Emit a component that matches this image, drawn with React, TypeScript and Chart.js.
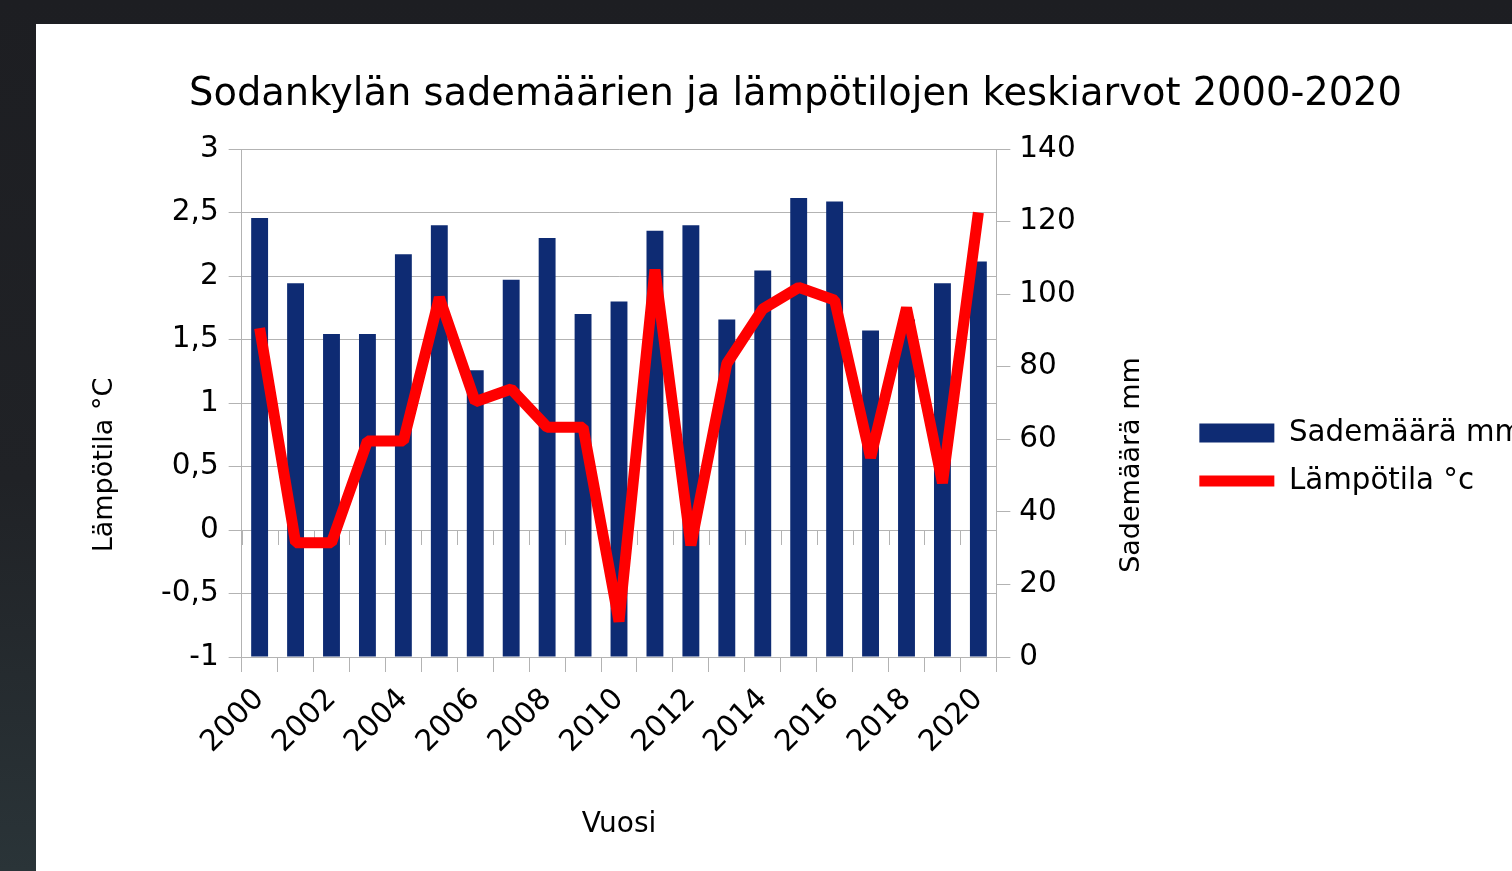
import React, { useEffect, useRef } from 'react';
import { Chart, registerables } from 'chart.js';

Chart.register(...registerables);

const years = ['2000', '2001', '2002', '2003', '2004', '2005', '2006', '2007', '2008', '2009', '2010', '2011', '2012', '2013', '2014', '2015', '2016', '2017', '2018', '2019', '2020'];
const precipitationMm = [121, 103, 89, 89, 111, 119, 79, 104, 115.5, 94.5, 98, 117.5, 119, 93, 106.5, 126.5, 125.5, 90, 93, 103, 109];
const temperatureC = [1.59, -0.1, -0.1, 0.7, 0.7, 1.83, 1.01, 1.11, 0.81, 0.81, -0.72, 2.05, -0.12, 1.31, 1.74, 1.91, 1.81, 0.57, 1.75, 0.37, 2.5];

const chartTitle = 'Sodankylän sademäärien ja lämpötilojen keskiarvot 2000-2020';
const barLabel = 'Sademäärä mm';
const lineLabel = 'Lämpötila °c';
const leftAxisTitle = 'Lämpötila °C';
const rightAxisTitle = 'Sademäärä mm';
const xAxisTitle = 'Vuosi';

const FONT = "'DejaVu Sans', 'Liberation Sans', sans-serif";
const GRID = '#b3b3b3';
const NAVY = '#0e2b73';
const RED = '#ff0000';

const TITLE_SIZE = 38.4;
const TICK_SIZE = 29.5;
const Y_TITLE_SIZE = 27;
const X_TITLE_SIZE = 28;
const LEGEND_SIZE = 29.3;
const LEGEND_PAD = 48 - 29.3;
const LEGEND_BOX_W = 75;

// page geometry targets
const PANEL_LEFT = 36;
const PANEL_TOP = 24;
const PLOT_LEFT = 242;
const PLOT_RIGHT = 997;
const LEGEND_ITEM_X = 1200;
const TITLE_CENTER_X = 796;
const CANVAS_H = 866;

const zeroTicks = {
  id: 'zeroTicks',
  beforeDatasetsDraw(chart: any) {
    const xs = chart.scales.x;
    const ys = chart.scales.y;
    const ctx = chart.ctx;
    const y0 = ys.getPixelForValue(0);
    const n = years.length;
    const half = (xs.getPixelForValue(1) - xs.getPixelForValue(0)) / 2;
    ctx.save();
    ctx.strokeStyle = GRID;
    ctx.lineWidth = 1;
    ctx.beginPath();
    for (let i = 0; i <= n; i++) {
      const px = Math.round(i < n ? xs.getPixelForValue(i) - half : xs.getPixelForValue(n - 1) + half) + 0.5;
      ctx.moveTo(px, y0);
      ctx.lineTo(px, y0 + 15);
    }
    ctx.stroke();
    ctx.restore();
  },
};

// vertical axis titles, both reading bottom-to-top as in the original
const axisTitles = {
  id: 'axisTitles',
  afterDraw(chart: any) {
    const { ctx, chartArea } = chart;
    const cy = (chartArea.top + chartArea.bottom) / 2 + 62;
    ctx.save();
    ctx.fillStyle = '#000';
    ctx.font = `${Y_TITLE_SIZE}px ${FONT}`;
    ctx.textAlign = 'center';
    ctx.textBaseline = 'middle';
    const draw = (text: string, x: number) => {
      ctx.save();
      ctx.translate(x, cy);
      ctx.rotate(-Math.PI / 2);
      ctx.fillText(text, 0, 0);
      ctx.restore();
    };
    draw(leftAxisTitle, chartArea.left - 137);
    draw(rightAxisTitle, chartArea.right + 136);
    ctx.restore();
  },
};

export default function App() {
  const canvasRef = useRef<HTMLCanvasElement | null>(null);

  useEffect(() => {
    const canvas = canvasRef.current!;
    const mctx = document.createElement('canvas').getContext('2d')!;
    mctx.font = `${LEGEND_SIZE}px ${FONT}`;
    const tw = Math.max(mctx.measureText(barLabel).width, mctx.measureText(lineLabel).width);
    const legendW = LEGEND_PAD + LEGEND_BOX_W + LEGEND_SIZE / 2 + tw + 10;
    const legendLeft = LEGEND_ITEM_X - LEGEND_PAD;
    let canvasLeft = 2 * TITLE_CENTER_X - (legendLeft + legendW);
    if (canvasLeft < PANEL_LEFT) canvasLeft = PANEL_LEFT;
    const W = Math.round(legendLeft + legendW - canvasLeft);
    canvas.width = W;
    canvas.height = CANVAS_H;
    canvas.style.left = `${canvasLeft - PANEL_LEFT}px`;
    canvas.style.width = `${W}px`;
    canvas.style.height = `${CANVAS_H}px`;

    const leftAxisW = PLOT_LEFT - canvasLeft;
    const rightAxisW = legendLeft - PLOT_RIGHT;
    const plotTop = 149 - PANEL_TOP;
    const plotBottom = 657 - PANEL_TOP;
    const titleLH = TITLE_SIZE * 1.2;
    const titleCenterY = 95 - PANEL_TOP;
    const xLH = X_TITLE_SIZE * 1.2;

    const chart = new Chart(canvas, {
      type: 'bar',
      data: {
        labels: years,
        datasets: [
          {
            type: 'bar',
            label: barLabel,
            data: precipitationMm,
            yAxisID: 'y1',
            backgroundColor: NAVY,
            borderWidth: 0,
            barPercentage: 0.47,
            categoryPercentage: 1,
            order: 2,
            pointStyle: 'rect',
          } as any,
          {
            type: 'line',
            label: lineLabel,
            data: temperatureC,
            yAxisID: 'y',
            borderColor: RED,
            backgroundColor: RED,
            borderWidth: 11,
            borderJoinStyle: 'bevel',
            borderCapStyle: 'butt',
            pointRadius: 0,
            pointHoverRadius: 0,
            tension: 0,
            order: 1,
            pointStyle: 'line',
          } as any,
        ],
      },
      options: {
        responsive: false,
        animation: false,
        devicePixelRatio: 1,
        layout: { padding: 0 },
        plugins: {
          tooltip: { enabled: false },
          title: {
            display: true,
            text: chartTitle,
            color: '#000',
            font: { family: FONT, size: TITLE_SIZE, weight: 'normal' },
            padding: { top: titleCenterY - titleLH / 2, bottom: plotTop - (titleCenterY + titleLH / 2) },
          },
          legend: {
            display: true,
            position: 'right',
            align: 'center',
            maxWidth: 5000,
            labels: {
              usePointStyle: true,
              pointStyleWidth: LEGEND_BOX_W,
              boxHeight: 19,
              padding: LEGEND_PAD,
              color: '#000',
              font: { family: FONT, size: LEGEND_SIZE },
              sort: (a: any, b: any) => a.datasetIndex - b.datasetIndex,
            },
          } as any,
        },
        scales: {
          x: {
            position: 'bottom',
            grid: { display: true, drawOnChartArea: false, drawTicks: true, tickLength: 15, color: GRID, offset: true },
            border: { display: true, color: GRID },
            ticks: {
              autoSkip: false,
              maxRotation: 45,
              minRotation: 45,
              padding: 10,
              color: '#000',
              font: { family: FONT, size: TICK_SIZE },
              callback: (_v: any, i: number) => (i % 2 === 0 ? years[i] : ''),
            },
            title: {
              display: true,
              text: xAxisTitle,
              color: '#000',
              font: { family: FONT, size: X_TITLE_SIZE },
              padding: { top: 0, bottom: CANVAS_H - (825 - PANEL_TOP) - xLH / 2 },
            },
            afterFit: (s: any) => {
              s.height = CANVAS_H - plotBottom;
            },
          },
          y: {
            position: 'left',
            min: -1,
            max: 3,
            grid: { color: GRID, tickLength: 13, drawTicks: true },
            border: { display: true, color: GRID },
            ticks: {
              stepSize: 0.5,
              padding: 10,
              color: '#000',
              font: { family: FONT, size: TICK_SIZE },
              callback: (v: any) => String(v).replace('.', ','),
            },
            title: { display: false },
            afterFit: (s: any) => {
              s.width = leftAxisW;
            },
          },
          y1: {
            position: 'right',
            min: 0,
            max: 140,
            grid: { drawOnChartArea: false, color: GRID, tickLength: 14, drawTicks: true },
            border: { display: true, color: GRID },
            ticks: {
              stepSize: 20,
              padding: 9,
              color: '#000',
              font: { family: FONT, size: TICK_SIZE },
            },
            title: { display: false },
            afterFit: (s: any) => {
              s.width = rightAxisW;
            },
          },
        },
      },
      plugins: [zeroTicks, axisTitles],
    });
    return () => chart.destroy();
  }, []);

  return (
    <div
      style={{
        position: 'fixed',
        inset: 0,
        overflow: 'hidden',
        background: 'linear-gradient(180deg, #1d1e22 0%, #202226 55%, #2a3438 100%)',
      }}
    >
      <div
        style={{
          position: 'absolute',
          left: PANEL_LEFT,
          top: PANEL_TOP,
          right: -100,
          bottom: -100,
          background: '#ffffff',
          overflow: 'hidden',
        }}
      >
        <canvas ref={canvasRef} style={{ position: 'absolute', top: 0, left: 0 }} />
      </div>
    </div>
  );
}
